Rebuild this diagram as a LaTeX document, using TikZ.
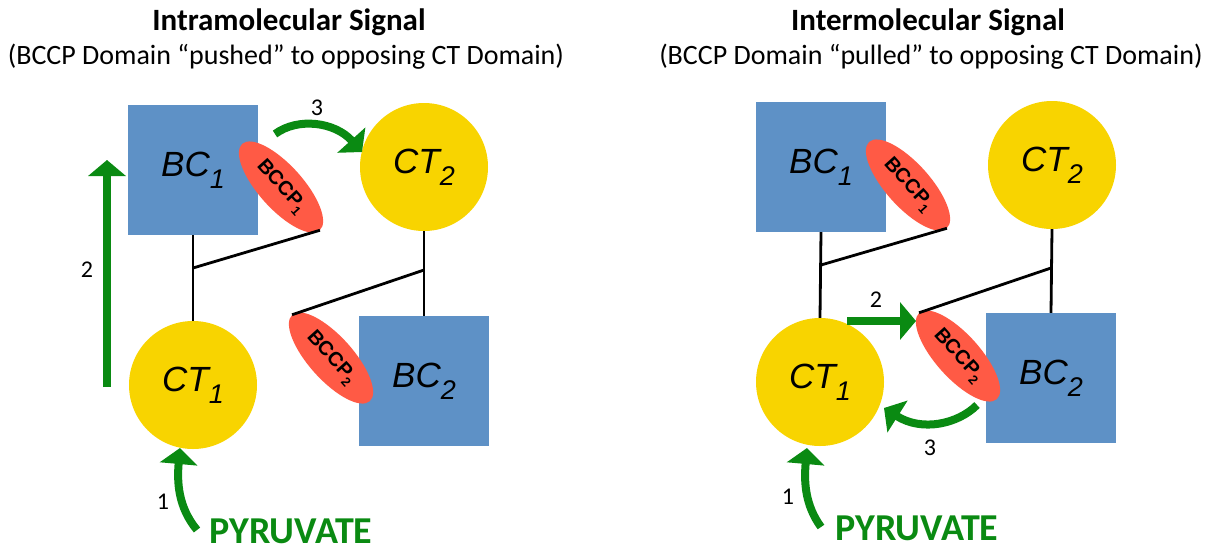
\documentclass[tikz,border=0pt]{standalone}
\usepackage{fontspec}
\setmainfont{Carlito}
\newfontfamily\arialf{Liberation Sans}
\usetikzlibrary{arrows.meta,shapes.geometric}
\definecolor{bcblue}{HTML}{5E91C6}
\definecolor{ctyellow}{HTML}{F8D400}
\definecolor{bccpred}{HTML}{FF5A45}
\definecolor{sgreen}{HTML}{0A8A12}
\newcommand{\dom}[2]{{\arialf\itshape\fontsize{35}{40}\selectfont #1\raisebox{-12pt}{\fontsize{27}{28}\selectfont #2}}}
\newcommand{\bccplab}[1]{{\arialf\bfseries\fontsize{20}{22}\selectfont BCCP\raisebox{-5pt}{\fontsize{13}{14}\selectfont #1}}}
\tikzset{
  bcbox/.style={rectangle,fill=bcblue,minimum size=130pt,inner sep=0pt},
  ctcirc/.style={circle,fill=ctyellow,minimum size=128pt,inner sep=0pt},
  bccp/.style={ellipse,fill=bccpred,minimum width=116pt,minimum height=44pt,inner sep=0pt,rotate=-48},
  sig/.style={draw=sgreen,line width=8pt,-{Triangle[width=37pt,length=16pt]}},
  link/.style={draw=black,line width=2.8pt},
  num/.style={font=\fontsize{24}{26}\selectfont,inner sep=0pt},
  pyr/.style={text=sgreen,font=\bfseries\fontsize{38}{40}\selectfont,inner sep=0pt},
  ttl/.style={font=\bfseries\fontsize{31}{34}\selectfont,inner sep=0pt},
  sub/.style={font=\fontsize{28}{30}\selectfont,inner sep=0pt}
}
\begin{document}
\begin{tikzpicture}[x=1pt,y=-1pt]
\useasboundingbox (0,0) rectangle (1211,550);
% titles
\node[ttl] (t1) at (289,22) {Intramolecular Signal};
\node[sub] (s1) at (286,57) {(BCCP Domain “pushed” to opposing CT Domain)};
\node[ttl] (t2) at (928,22) {Intermolecular Signal};
\node[sub] (s2) at (931,57) {(BCCP Domain “pulled” to opposing CT Domain)};
% ---------- left panel ----------
\node[bcbox] (lbc1) at (193,170) {\dom{BC}{1}};
\node[ctcirc] (lct2) at (424,167) {\dom{CT}{2}};
\node[ctcirc] (lct1) at (193,385) {\dom{CT}{1}};
\node[bcbox] (lbc2) at (424,381) {\dom{BC}{2}};
\node[bccp] (lbp1) at (281,187) {\bccplab{1}};
\node[bccp] (lbp2) at (331,358) {\bccplab{2}};
\coordinate (lj1) at (193,268);
\coordinate (lj2) at (424,270);
\draw[link] (lbc1.south) -- (lct1.north);
\draw[link] (lj1) -- (lbp1.east);
\draw[link] (lct2.south) -- (lbc2.north);
\draw[link] (lj2) -- (lbp2.west);
% arrows left
\coordinate (la2s) at (107,387);
\coordinate (la2e) at (107,160);
\draw[sig] (la2s) -- (la2e);
\node[num] (ln2) at (87,270) {2};
\coordinate (la3s) at (275,134);
\coordinate (la3e) at (362,152);
\draw[sig] (la3s) .. controls (298,117) and (335,122) .. (la3e);
\node[num] (ln3) at (317,108) {3};
\coordinate (la1s) at (197,530);
\coordinate (la1e) at (180,448);
\draw[sig] (la1s) .. controls (178,507) and (177,482) .. (la1e);
\node[num] (ln1) at (163,502) {1};
\node[pyr] (lpyr) at (291,531) {PYRUVATE};
% ---------- right panel ----------
\node[bcbox] (rbc1) at (821,167) {\dom{BC}{1}};
\node[ctcirc] (rct2) at (1052,165) {\dom{CT}{2}};
\node[ctcirc] (rct1) at (820,382) {\dom{CT}{1}};
\node[bcbox] (rbc2) at (1051,378) {\dom{BC}{2}};
\node[bccp] (rbp1) at (908,185) {\bccplab{1}};
\node[bccp] (rbp2) at (958,356) {\bccplab{2}};
\coordinate (rj1) at (821,265);
\coordinate (rj2) at (1051,268);
\draw[link] (rbc1.south) -- (rct1.north);
\draw[link] (rj1) -- (rbp1.east);
\draw[link] (rct2.south) -- (rbc2.north);
\draw[link] (rj2) -- (rbp2.west);
% arrows right
\coordinate (ra2s) at (847,321);
\coordinate (ra2e) at (916,321);
\draw[sig] (ra2s) -- (ra2e);
\node[num] (rn2) at (876,300) {2};
\coordinate (ra3s) at (977,405);
\coordinate (ra3e) at (884,408);
\draw[sig] (ra3s) .. controls (958,424) and (922,432) .. (ra3e);
\node[num] (rn3) at (930,448) {3};
\coordinate (ra1s) at (821,527);
\coordinate (ra1e) at (807,448);
\draw[sig] (ra1s) .. controls (805,505) and (804,482) .. (ra1e);
\node[num] (rn1) at (788,497) {1};
\node[pyr] (rpyr) at (917,528) {PYRUVATE};
\end{tikzpicture}
\end{document}
